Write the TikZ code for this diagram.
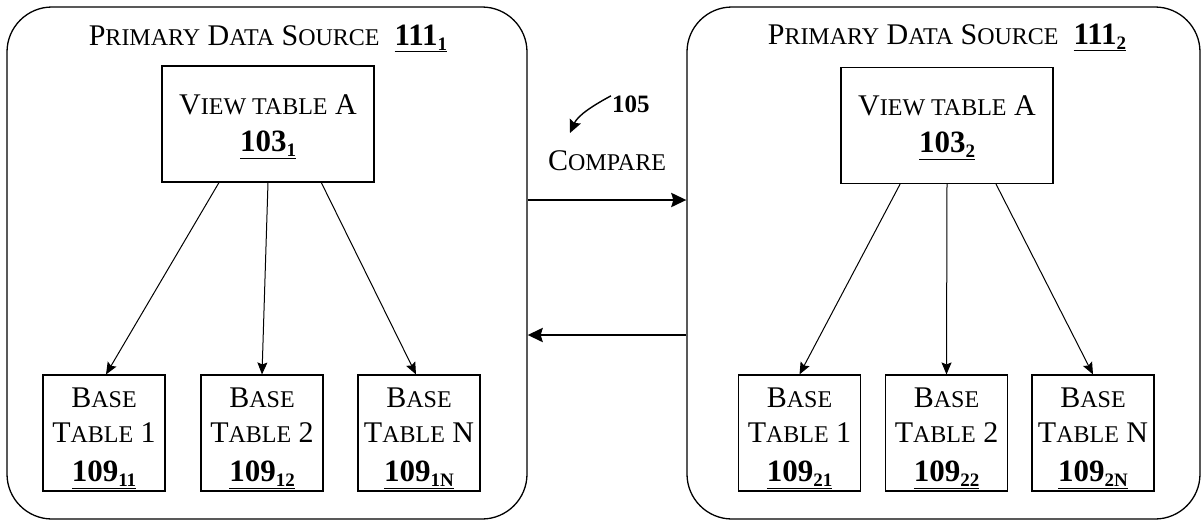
\documentclass[tikz,border=0pt]{standalone}
\usepackage{fontspec}
\setmainfont{Liberation Serif}
\usetikzlibrary{arrows.meta,calc}
\newcommand\Lg{\fontsize{30}{35}\selectfont}
\newcommand\Sm[1]{{\fontsize{24}{35}\selectfont #1}}
\newcommand\NumS[2]{\underline{\fontsize{31}{35}\selectfont\textbf{#1}\raisebox{-5pt}{\fontsize{19}{19}\selectfont\textbf{#2}}}}
\begin{document}
\begin{tikzpicture}[x=1pt,y=-1pt,
  container/.style={draw,line width=1.3pt,rounded corners=45pt,minimum width=#1,minimum height=512pt,inner sep=0pt},
  viewbox/.style={draw,line width=1.1pt,minimum width=212pt,minimum height=116pt,inner sep=0pt},
  basebox/.style={draw,line width=1.1pt,minimum width=122pt,minimum height=116pt,inner sep=0pt},
  boxtext/.style={anchor=north,inner sep=0pt,align=center,font=\Lg},
  thinarrow/.style={line width=1pt,-{Stealth[length=12pt,width=10pt,inset=2pt]}},
  bigarrow/.style={line width=2.6pt,-{Stealth[length=15pt,width=14pt,inset=2pt]}},
  lbl/.style={anchor=base,inner sep=0pt,font=\Lg}]
\useasboundingbox (0,0) rectangle (1203,520);
% containers
\node[container=520pt] (src1) at (267,263) {};
\node[container=513pt] (src2) at (943.5,263) {};
\node[lbl] (title1) at (268,45) {P\Sm{RIMARY} D\Sm{ATA} S\Sm{OURCE}\ \ \NumS{111}{1}};
\node[lbl] (title2) at (947,44) {P\Sm{RIMARY} D\Sm{ATA} S\Sm{OURCE}\ \ \NumS{111}{2}};
% view tables
\node[viewbox] (vt1) at (268,124) {};
\node[viewbox] (vt2) at (947,125.5) {};
\node[boxtext] (vt1t) at ([yshift=-29pt]vt1.north) {V\Sm{IEW TABLE} A\\[2pt]\NumS{103}{1}};
\node[boxtext] (vt2t) at ([yshift=-29pt]vt2.north) {V\Sm{IEW TABLE} A\\[2pt]\NumS{103}{2}};
% base tables
\node[basebox] (b11) at (104,433) {};
\node[basebox] (b12) at (262,433) {};
\node[basebox] (b1n) at (419,433) {};
\node[basebox] (b21) at (799.5,433) {};
\node[basebox] (b22) at (946.5,433) {};
\node[basebox] (b2n) at (1093,433) {};
\node[boxtext] (b11t) at ([yshift=-13pt]b11.north) {B\Sm{ASE}\\T\Sm{ABLE} 1\\[4pt]\NumS{109}{11}};
\node[boxtext] (b12t) at ([yshift=-13pt]b12.north) {B\Sm{ASE}\\T\Sm{ABLE} 2\\[4pt]\NumS{109}{12}};
\node[boxtext] (b1nt) at ([yshift=-13pt]b1n.north) {B\Sm{ASE}\\T\Sm{ABLE} N\\[4pt]\NumS{109}{1N}};
\node[boxtext] (b21t) at ([yshift=-13pt]b21.north) {B\Sm{ASE}\\T\Sm{ABLE} 1\\[4pt]\NumS{109}{21}};
\node[boxtext] (b22t) at ([yshift=-13pt]b22.north) {B\Sm{ASE}\\T\Sm{ABLE} 2\\[4pt]\NumS{109}{22}};
\node[boxtext] (b2nt) at ([yshift=-13pt]b2n.north) {B\Sm{ASE}\\T\Sm{ABLE} N\\[4pt]\NumS{109}{2N}};
% arrows view -> base
\draw[thinarrow] ($(vt1.south west)!0.27!(vt1.south east)$) -- ([xshift=2pt]b11.north);
\draw[thinarrow] ($(vt1.south west)!0.5!(vt1.south east)$) -- (b12.north);
\draw[thinarrow] ($(vt1.south west)!0.75!(vt1.south east)$) -- ([xshift=-3pt]b1n.north);
\draw[thinarrow] ($(vt2.south west)!0.28!(vt2.south east)$) -- (b21.north);
\draw[thinarrow] ($(vt2.south west)!0.5!(vt2.south east)$) -- (b22.north);
\draw[thinarrow] ($(vt2.south west)!0.73!(vt2.south east)$) -- (b2n.north);
% compare
\draw[bigarrow] ([yshift=63pt]src1.east) -- ([yshift=63pt]src2.west);
\draw[bigarrow] ([yshift=-72pt]src2.west) -- ([yshift=-72pt]src1.east);
\node[lbl] (cmp) at (607,170) {C\Sm{OMPARE}};
\node[anchor=base west,inner sep=0pt,font=\fontsize{25}{28}\selectfont\bfseries] (n105) at (612,112) {105};
\coordinate (tip105) at (570,133);
\draw[line width=1.4pt,-{Stealth[length=13pt,width=12pt,inset=2pt]}] ([xshift=-1pt,yshift=8pt]n105.west) .. controls (594,105) and (578,115) .. (tip105);
\end{tikzpicture}
\end{document}
